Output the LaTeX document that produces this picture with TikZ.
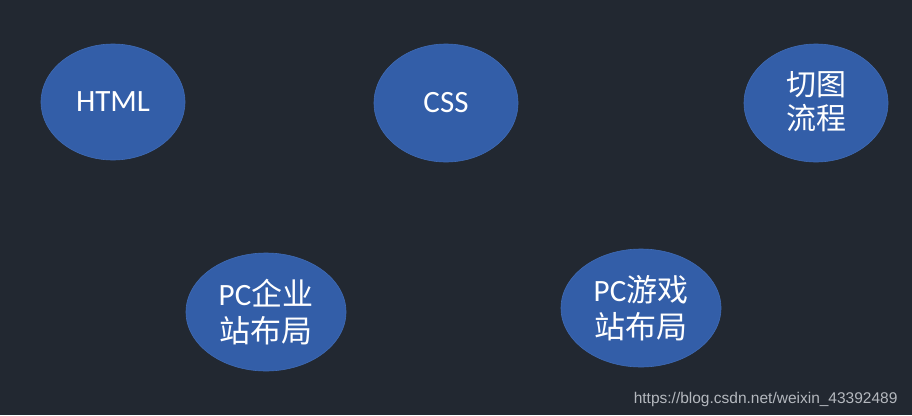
\documentclass[tikz,border=0pt]{standalone}
\usepackage{fontspec}
\setmainfont{Carlito}
\newfontfamily\cjk{Noto Sans CJK SC}
\newfontfamily\wm{Liberation Sans}
\definecolor{bg}{HTML}{222831}
\definecolor{ell}{HTML}{335EA8}
\definecolor{ellline}{HTML}{3F6BB5}
\definecolor{wmc}{HTML}{B4B8BE}
\begin{document}
\begin{tikzpicture}[x=1pt,y=-1pt,
  blob/.style={fill=ell, draw=ellline, line width=0.6pt},
  lbl/.style={text=white, align=center, inner sep=0pt, font=\fontsize{31}{37}\selectfont}]
\fill[bg] (0,0) rectangle (912,415);
\useasboundingbox (0,0) rectangle (912,415);
\path[blob] (113,102) ellipse [x radius=72, y radius=58];
\node[lbl] (html) at (113,102) {HTML};
\path[blob] (446,103) ellipse [x radius=72, y radius=59];
\node[lbl] (css) at (446,103) {CSS};
\path[blob] (816,103) ellipse [x radius=72, y radius=59];
\node[lbl, font=\fontsize{30}{34}\cjk] (qt) at (816,102) {切图\\流程};
\path[blob] (266,312) ellipse [x radius=80, y radius=59];
\node[lbl] (pcqy) at (266,312) {PC{\cjk 企业}\\{\cjk 站布局}};
\path[blob] (641,308) ellipse [x radius=80, y radius=59];
\node[lbl] (pcyx) at (641,308) {PC{\cjk 游戏}\\{\cjk 站布局}};
\node[anchor=base east, text=wmc, font=\fontsize{15.5}{18}\wm] (wm) at (901,403) {https://blog.csdn.net/weixin\_43392489};
\end{tikzpicture}
\end{document}
